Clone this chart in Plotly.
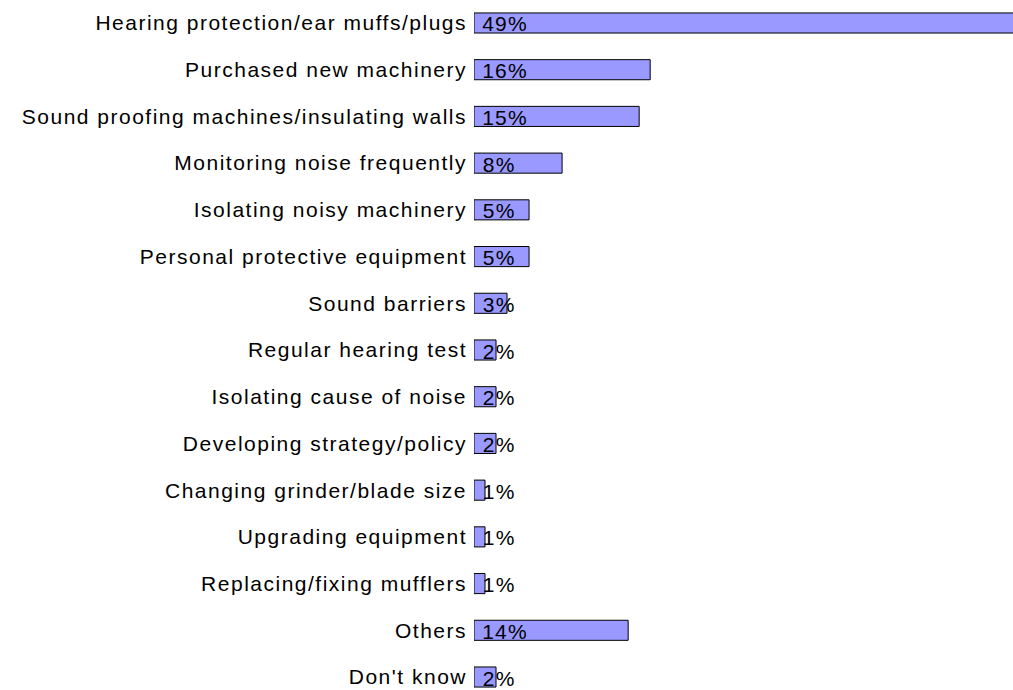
import plotly.graph_objects as go

categories = [
    "Hearing protection/ear muffs/plugs",
    "Purchased new machinery",
    "Sound proofing machines/insulating walls",
    "Monitoring noise frequently",
    "Isolating noisy machinery",
    "Personal protective equipment",
    "Sound barriers",
    "Regular hearing test",
    "Isolating cause of noise",
    "Developing strategy/policy",
    "Changing grinder/blade size",
    "Upgrading equipment",
    "Replacing/fixing mufflers",
    "Others",
    "Don't know",
]
values = [49, 16, 15, 8, 5, 5, 3, 2, 2, 2, 1, 1, 1, 14, 2]
value_labels = [f"{v}%" for v in values]

FONT = "Liberation Sans, Arial, sans-serif"

fig = go.Figure(
    go.Bar(
        x=values,
        y=categories,
        orientation="h",
        width=0.43,
        marker=dict(color="#9999FF", line=dict(color="#000000", width=1)),
        hoverinfo="skip",
    )
)

annotations = [
    dict(
        x=0, y=c, xref="x", yref="y", text=t, showarrow=False,
        xanchor="left", yanchor="middle", xshift=8, yshift=-1,
        font=dict(family=FONT, size=21, color="#000000"),
    )
    for c, t in zip(categories, value_labels)
]

fig.update_layout(
    width=1013, height=690,
    margin=dict(l=474, r=0, t=0, b=0, autoexpand=False),
    paper_bgcolor="white", plot_bgcolor="white",
    showlegend=False,
    annotations=annotations,
    font=dict(family=FONT, size=21, color="#000000"),
)
fig.update_xaxes(range=[0, 48.95], visible=False, showgrid=False, zeroline=False)
fig.update_yaxes(
    categoryorder="array", categoryarray=categories,
    range=[14.278, -0.492],
    showgrid=False, zeroline=False, showline=False, ticks="",
    ticklabelstandoff=6,
    tickfont=dict(family=FONT, size=21, color="#000000"),
)

post = (
    "document.body.style.margin='0';"
    "var s=document.createElement('style');"
    "s.textContent='.ytick text{letter-spacing:1.5px} .annotation-text{letter-spacing:1.2px}';"
    "document.head.appendChild(s);"
)
fig.write_html("out.html", post_script=post, config={"displayModeBar": False})
